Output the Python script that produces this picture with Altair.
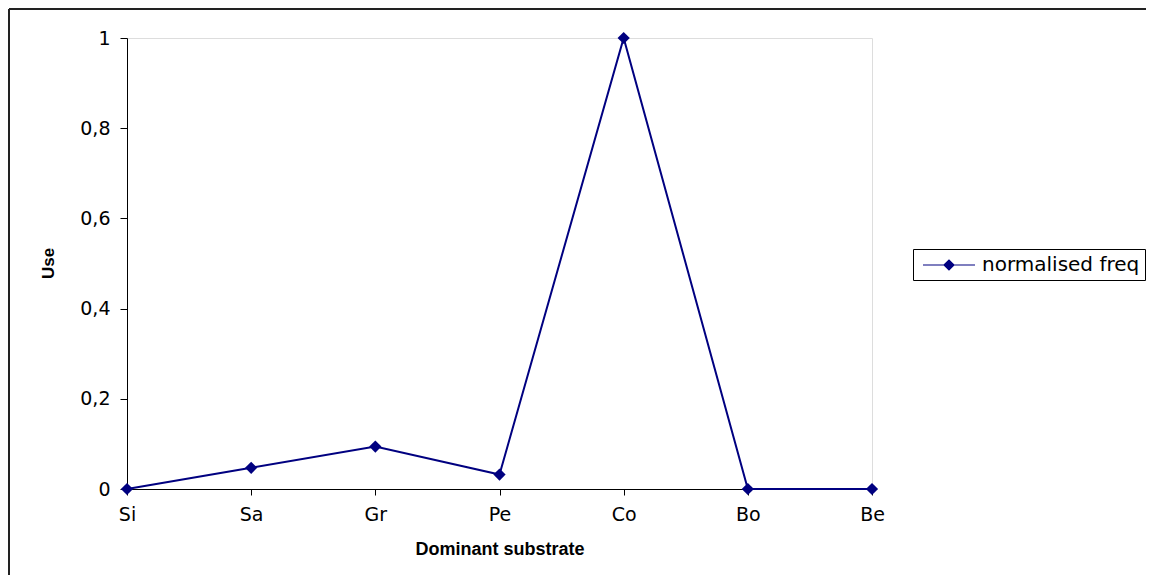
import altair as alt
import pandas as pd

categories = ["Si", "Sa", "Gr", "Pe", "Co", "Bo", "Be"]
values = [0.0, 0.047, 0.094, 0.032, 1.0, 0.0, 0.0]
series = ["normalised freq"] * len(categories)

df = pd.DataFrame({"substrate": categories, "use": values, "series": series})

NAVY = "#000080"
FONT = "DejaVu Sans"
TFONT = "Liberation Sans"

legend_path = "M-0.6,0L4.6,0M1.5,0L2,-0.5L2.5,0L2,0.5Z"

base = alt.Chart(df)

line = base.mark_line(
    color=NAVY, strokeWidth=2,
    point=alt.OverlayMarkDef(shape="diamond", filled=True, size=150, color=NAVY),
).encode(
    x=alt.X("substrate:O", sort=categories,
            scale=alt.Scale(type="point", padding=0),
            axis=alt.Axis(title="Dominant substrate", labelAngle=0, labelFontSize=19,
                          labelFont=FONT, labelColor="black", tickSize=6, tickColor="black",
                          domainColor="black", labelPadding=10, titleFont=TFONT,
                          titleFontSize=18, titleFontWeight="bold", titleColor="black",
                          titleY=60, titleBaseline="middle")),
    y=alt.Y("use:Q", scale=alt.Scale(domain=[0, 1], nice=False),
            axis=alt.Axis(title="Use", values=[0, 0.2, 0.4, 0.6, 0.8, 1.0], format=".1~f",
                          labelExpr="replace(datum.label, '.', ',')", grid=False,
                          labelFontSize=19, labelFont=FONT, labelColor="black",
                          tickSize=7, tickColor="black", domainColor="black",
                          labelPadding=10, titleFont=TFONT, titleFontSize=17,
                          titleFontWeight="bold", titleColor="black", titleAngle=-90,
                          titleX=-79, titleY=225, titleBaseline="middle", titleAlign="center")),
    color=alt.Color("series:N", scale=alt.Scale(range=[NAVY]),
                    legend=alt.Legend(title=None, orient="none", legendX=786, legendY=211,
                                      symbolType=legend_path, symbolSize=400,
                                      symbolStrokeColor=NAVY, symbolFillColor=NAVY,
                                      symbolStrokeWidth=1.2, labelFontSize=20, labelFont=FONT,
                                      labelColor="black", strokeColor="black", padding=5,
                                      labelOffset=42)),
)

frame = pd.DataFrame({"k": [0]})
border_top = alt.Chart(frame).mark_rule(color="#222222", strokeWidth=2).encode(
    x=alt.value(-118), x2=alt.value(1100), y=alt.value(-29))
border_left = alt.Chart(frame).mark_rule(color="#222222", strokeWidth=2).encode(
    x=alt.value(-118), y=alt.value(-29), y2=alt.value(600))

chart = alt.layer(line, border_top, border_left).properties(
    width=745, height=451,
    autosize=alt.AutoSizeParams(type="none"),
    padding={"left": 119, "top": 30, "right": 274, "bottom": 86},
).configure_view(stroke="#808080", strokeWidth=1.5).configure(background="white")

chart.save("out.html", embed_options={"renderer": "svg", "actions": False})
